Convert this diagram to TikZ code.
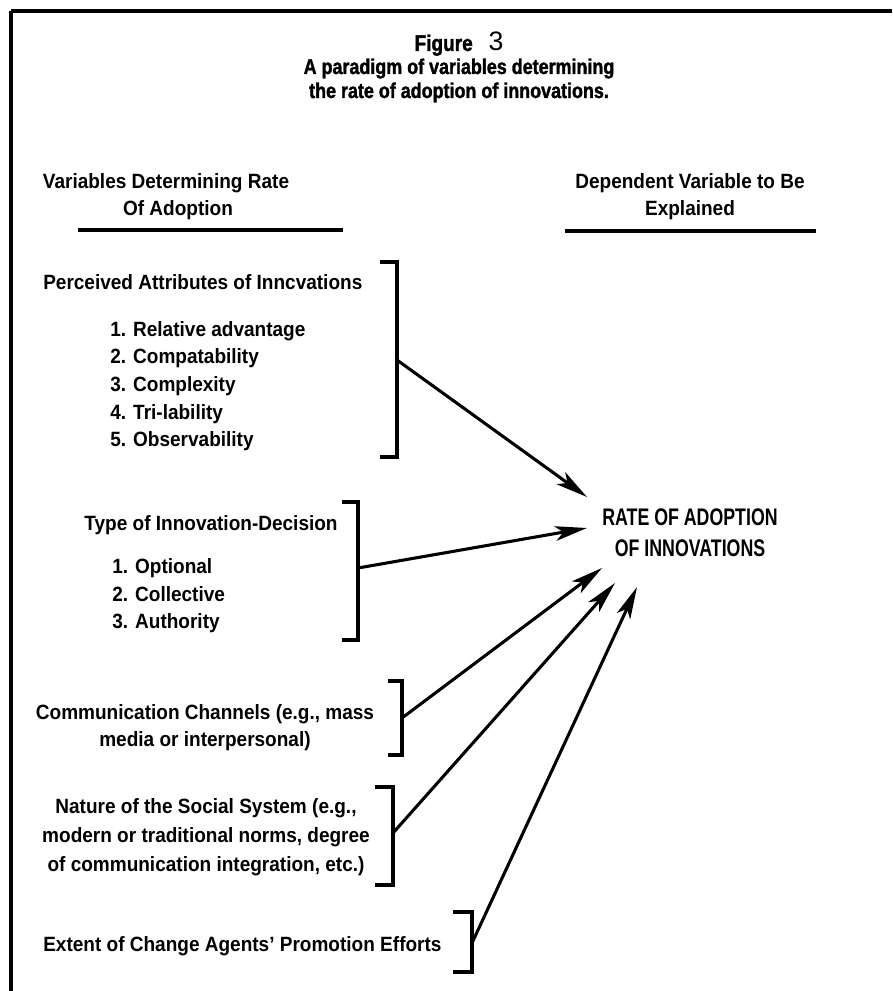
\documentclass[tikz,border=0pt]{standalone}
\usepackage{fontspec}
\setmainfont[FakeStretch=0.92]{Liberation Sans Bold}
\newfontfamily\tfont[FakeStretch=0.84,FakeBold=1.5]{Liberation Sans Bold}
\newfontfamily\rfont[FakeStretch=0.74]{Liberation Sans Bold}
\newfontfamily\nfont{Liberation Sans}
\usetikzlibrary{arrows.meta}
\tikzset{
  txt/.style={font=\fontsize{15.5}{19}\selectfont, inner sep=0pt, anchor=base west},
  txtc/.style={txt, anchor=base},
  ttl/.style={font=\tfont\fontsize{16}{19}\selectfont, inner sep=0pt, anchor=base},
  rate/.style={font=\rfont\fontsize{18}{21}\selectfont, inner sep=0pt, anchor=base},
  brk/.style={line width=2.6pt, line join=miter},
  rule/.style={line width=2.6pt},
  arr/.style={line width=2.3pt, -{Stealth[length=24pt,width=11pt,inset=6pt]}}
}
\begin{document}
\begin{tikzpicture}[x=0.75pt,y=-0.75pt]
\useasboundingbox (0,0) rectangle (892,991);
\fill[white] (0,0) rectangle (892,991);
% frame
\draw[rule] (11,11) -- (892,11);
\draw[rule] (11,11) -- (11,991);
% title
\node[ttl, font=\tfont\fontsize{17}{19}\selectfont] (fig) at (459,51) {Figure\hspace{0.7em}{\nfont\fontsize{20}{20}\selectfont 3}};
\node[ttl] (t2) at (459,74) {A paradigm of variables determining};
\node[ttl] (t3) at (459,98) {the rate of adoption of innovations.};
% headers
\node[txtc] (lh1) at (166,189) {Variables Determining Rate};
\node[txtc] (lh2) at (178,216) {Of Adoption};
\node[txtc] (rh1) at (690,189) {Dependent Variable to Be};
\node[txtc] (rh2) at (690,216) {Explained};
\draw[rule] (78,230) -- (343,230);
\draw[rule] (565,231) -- (816,231);
% block 1
\node[txt] (p0) at (43,289) {Perceived Attributes of Inncvations};
\node[txt] (p1) at (110,336) {1. Relative advantage};
\node[txt] (p2) at (110,363) {2. Compatability};
\node[txt] (p3) at (110,391) {3. Complexity};
\node[txt] (p4) at (110,419) {4. Tri-lability};
\node[txt] (p5) at (110,446) {5. Observability};
\draw[brk] (380,262) -- (397,262) -- (397,457) -- (380,457);
\coordinate (b1) at (397,360);
% block 2
\node[txtc] (d0) at (211,530) {Type of Innovation-Decision};
\node[txt] (d1) at (112,573) {1. Optional};
\node[txt] (d2) at (112,601) {2. Collective};
\node[txt] (d3) at (112,628) {3. Authority};
\draw[brk] (342,502) -- (358,502) -- (358,640) -- (342,640);
\coordinate (b2) at (358,568);
% block 3
\node[txtc] (c1) at (205,719) {Communication Channels (e.g., mass};
\node[txtc] (c2) at (205,746) {media or interpersonal)};
\draw[brk] (388,681) -- (402,681) -- (402,755) -- (388,755);
\coordinate (b3) at (402,718);
% block 4
\node[txtc] (n1) at (206,813) {Nature of the Social System (e.g.,};
\node[txtc] (n2) at (206,842) {modern or traditional norms, degree};
\node[txtc] (n3) at (206,871) {of communication integration, etc.)};
\draw[brk] (375,787) -- (393,787) -- (393,885) -- (375,885);
\coordinate (b4) at (393,833);
% block 5
\node[txt] (e1) at (43,951) {Extent of Change Agents' Promotion Efforts};
\draw[brk] (453,912) -- (472,912) -- (472,972) -- (453,972);
\coordinate (b5) at (472,943);
% dependent variable
\node[rate] (r1) at (690,525) {RATE OF ADOPTION};
\node[rate] (r2) at (690,556) {OF INNOVATIONS};
\coordinate (t1) at (587,497);
\coordinate (t2c) at (587,528);
\coordinate (t3c) at (602,568);
\coordinate (t4c) at (615,583);
\coordinate (t5c) at (637,587);
\draw[arr] (b1) -- (t1);
\draw[arr] (b2) -- (t2c);
\draw[arr] (b3) -- (t3c);
\draw[arr] (b4) -- (t4c);
\draw[arr] (b5) -- (t5c);
\end{tikzpicture}
\end{document}
